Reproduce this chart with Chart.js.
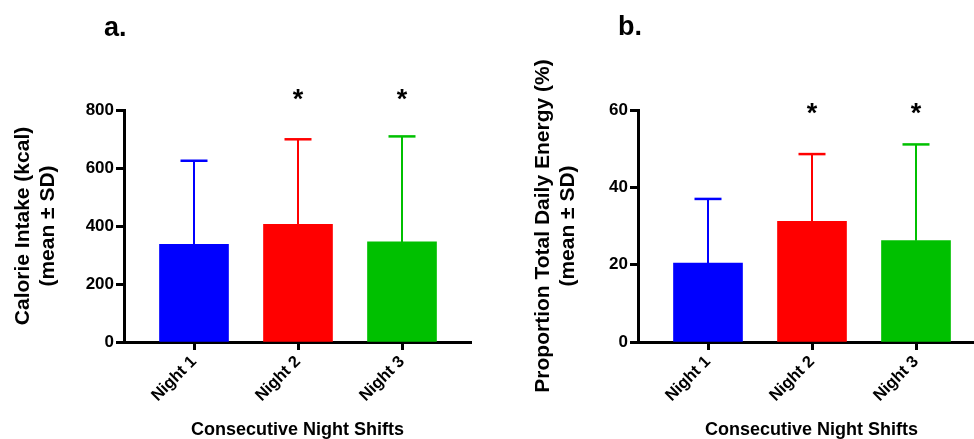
<!DOCTYPE html>
<html>
<head>
<meta charset="utf-8">
<script src="https://cdn.jsdelivr.net/npm/chart.js@4.4.1/dist/chart.umd.min.js"></script>
<style>
  html, body { margin: 0; padding: 0; background: #fff; overflow: hidden; }
  body { width: 974px; height: 439px; position: relative; }
  .panel { position: absolute; top: 0; height: 439px; }
  #panelA { left: 0; width: 490px; }
  #panelB { left: 490px; width: 495px; }
</style>
</head>
<body>
<div class="panel" id="panelA"><canvas id="chartA" width="490" height="439"></canvas></div>
<div class="panel" id="panelB"><canvas id="chartB" width="495" height="439"></canvas></div>
<script>
// data
const nights = ['Night 1', 'Night 2', 'Night 3'];
const barColors = ['#0000ff', '#ff0000', '#00c000'];
const stars = ['', '*', '*'];

const calorieMean = [337, 406, 345];
const calorieSD = [288, 293, 364];
const calorieTicks = [0, 200, 400, 600, 800];

const energyMean = [20.4, 31.2, 26.2];
const energySD = [16.6, 17.4, 24.9];
const energyTicks = [0, 20, 40, 60];

const FONT = "'Liberation Sans', Arial, Helvetica, sans-serif";

// draws the upper SD whisker, the asterisks and the panel letter
function panelExtras(means, sds, starY, letter, letterX, letterY) {
  return {
    id: 'panelExtras',
    afterDatasetsDraw(chart) {
      const ctx = chart.ctx;
      const xs = chart.scales.x, ys = chart.scales.y;
      ctx.save();
      means.forEach((m, i) => {
        const px = xs.getPixelForValue(i + 1);
        const yBar = ys.getPixelForValue(m);
        const yTop = ys.getPixelForValue(m + sds[i]);
        ctx.strokeStyle = barColors[i];
        ctx.lineWidth = 2;
        ctx.beginPath();
        ctx.moveTo(px, yBar);
        ctx.lineTo(px, yTop);
        ctx.stroke();
        ctx.lineWidth = 2.5;
        ctx.beginPath();
        ctx.moveTo(px - 13.5, yTop);
        ctx.lineTo(px + 13.5, yTop);
        ctx.stroke();

        if (stars[i]) {
          ctx.fillStyle = '#000';
          ctx.font = 'bold 27px ' + FONT;
          ctx.textAlign = 'center';
          ctx.textBaseline = 'alphabetic';
          ctx.fillText(stars[i], px, starY + 27 * 0.57);
        }
      });
      ctx.fillStyle = '#000';
      ctx.font = 'bold 27px ' + FONT;
      ctx.textAlign = 'left';
      ctx.textBaseline = 'alphabetic';
      ctx.fillText(letter, letterX, letterY);
      ctx.restore();
    }
  };
}

function makeChart(canvasId, means, sds, ticks, yTitle, yAxisWidth, titlePad, rightPad, extras) {
  return new Chart(document.getElementById(canvasId), {
    type: 'bar',
    data: {
      datasets: [{
        data: means.map((m, i) => ({ x: i + 1, y: m })),
        backgroundColor: barColors,
        borderWidth: 0,
        barThickness: 69
      }]
    },
    options: {
      responsive: false,
      animation: false,
      devicePixelRatio: 1,
      layout: { padding: { top: 110, right: rightPad, left: 0, bottom: 0 } },
      plugins: {
        legend: { display: false },
        tooltip: { enabled: false }
      },
      scales: {
        x: {
          type: 'linear',
          offset: false,
          min: 1 - 70 / 104,
          max: 1 - 70 / 104 + 347 / 104,
          afterBuildTicks: s => { s.ticks = nights.map((n, i) => ({ value: i + 1 })); },
          afterFit: s => { s.height = 97; },
          border: { display: true, color: '#000', width: 3 },
          grid: { offset: false, drawOnChartArea: false, drawTicks: true, tickLength: 8, tickWidth: 3, tickColor: '#000', color: '#000' },
          ticks: {
            autoSkip: false,
            minRotation: 45,
            maxRotation: 45,
            padding: 2,
            color: '#000',
            font: { family: FONT, size: 16.5, weight: 'bold' },
            callback: v => nights[v - 1]
          },
          title: {
            display: true,
            text: 'Consecutive Night Shifts',
            color: '#000',
            padding: { top: 0, bottom: 0 },
            font: { family: FONT, size: 18, weight: 'bold', lineHeight: 1 }
          }
        },
        y: {
          min: 0,
          max: ticks[ticks.length - 1],
          afterBuildTicks: s => { s.ticks = ticks.map(v => ({ value: v })); },
          afterFit: s => { s.width = yAxisWidth; },
          border: { display: true, color: '#000', width: 3 },
          grid: { drawOnChartArea: false, drawTicks: true, tickLength: 8, tickWidth: 3, tickColor: '#000', color: '#000' },
          ticks: {
            padding: 2,
            color: '#000',
            font: { family: FONT, size: 17, weight: 'bold' }
          },
          title: {
            display: true,
            text: yTitle,
            color: '#000',
            padding: { top: titlePad, bottom: 0 },
            font: { family: FONT, size: 21, weight: 'bold', lineHeight: 1.2 }
          }
        }
      }
    },
    plugins: [extras]
  });
}

makeChart('chartA', calorieMean, calorieSD, calorieTicks,
  ['Calorie Intake (kcal)', '(mean \u00b1 SD)'], 124, 10.4, 19,
  panelExtras(calorieMean, calorieSD, 92.5, 'a.', 104, 36));

makeChart('chartB', energyMean, energySD, energyTicks,
  ['Proportion Total Daily Energy (%)', '(mean \u00b1 SD)'], 148, 40.4, 0,
  panelExtras(energyMean, energySD, 107, 'b.', 128, 35));
</script>
</body>
</html>
